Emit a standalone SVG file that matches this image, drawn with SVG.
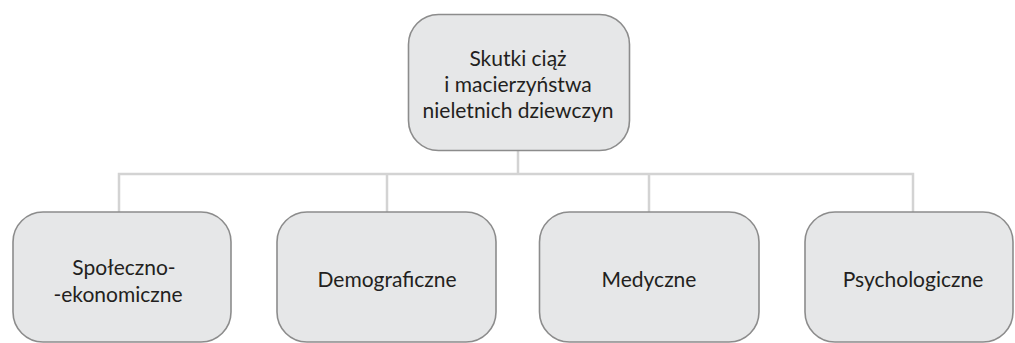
<svg xmlns="http://www.w3.org/2000/svg" width="1015" height="343" viewBox="0 0 1015 343">
<style>
.box{fill:#e6e7e8;stroke:#8c8c8c;stroke-width:1.6}
.conn{fill:none;stroke:#d3d3d3;stroke-width:2.5}
.t{font-family:Lato,"Liberation Sans",sans-serif;font-size:21px;fill:#231f20;text-anchor:middle}
</style>
<rect width="1015" height="343" fill="#ffffff"/>
<g id="connectors">
<path class="conn" d="M518 151V174M119 212V174H913V212M387 174V212M649 174V212"/>
</g>
<g id="root">
<rect class="box" x="408.5" y="14.5" width="221" height="136" rx="30"/>
<text class="t" x="518" y="66">Skutki ciąż</text>
<text class="t" x="518" y="92">i macierzyństwa</text>
<text class="t" x="518" y="118">nieletnich dziewczyn</text>
</g>
<g id="spoleczno">
<rect class="box" x="13" y="212" width="218" height="130" rx="30"/>
<text class="t" x="124" y="275">Społeczno-</text>
<text class="t" x="118" y="302">-ekonomiczne</text>
</g>
<g id="demograficzne">
<rect class="box" x="277" y="212" width="219" height="130" rx="30"/>
<text class="t" x="387" y="287">Demograficzne</text>
</g>
<g id="medyczne">
<rect class="box" x="539.5" y="212" width="219.5" height="130" rx="30"/>
<text class="t" x="649" y="287">Medyczne</text>
</g>
<g id="psychologiczne">
<rect class="box" x="805" y="212" width="208" height="130" rx="30"/>
<text class="t" x="913" y="287">Psychologiczne</text>
</g>
</svg>
